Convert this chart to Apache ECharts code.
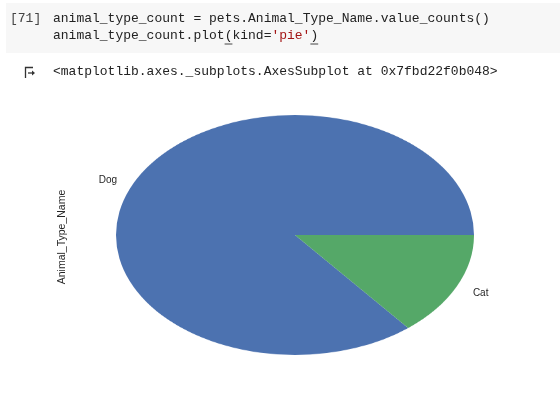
<!DOCTYPE html>
<html>
<head>
<meta charset="utf-8">
<script src="https://cdn.jsdelivr.net/npm/echarts@6/dist/echarts.min.js"></script>
<style>
html,body{margin:0;padding:0;background:#fff;}
#wrap{position:relative;width:560px;height:403px;overflow:hidden;}
#bg{position:absolute;left:0;top:0;width:560px;height:403px;}
#pie{position:absolute;width:358px;height:358px;left:116px;top:56px;transform:scaleY(0.6704);transform-origin:50% 50%;}
</style>
</head>
<body>
<div id="wrap"><div id="bg"></div><div id="pie"></div></div>
<script>
// Data
var categories = ['Dog', 'Cat'];
var counts = [859, 141];
var colors = ['#4c72b0', '#55a868'];
var yAxisLabel = 'Animal_Type_Name';

// Pie geometry (screen)
var cx = 295, cy = 235, rx = 179, ry = 120;

var pie = echarts.init(document.getElementById('pie'), null, {renderer: 'canvas'});
pie.setOption({
  animation: false,
  series: [{
    type: 'pie',
    center: ['50%', '50%'],
    radius: ['0%', '100%'],
    startAngle: 0,
    clockwise: false,
    label: {show: false},
    labelLine: {show: false},
    itemStyle: {borderWidth: 0},
    emphasis: {disabled: true},
    data: categories.map(function (c, i) {
      return {name: c, value: counts[i], itemStyle: {color: colors[i]}};
    })
  }]
});

// labels at 1.1 radius on mid-angle (matplotlib style)
var total = counts.reduce(function (a, b) { return a + b; }, 0);
var acc = 0;
var labelEls = [];
categories.forEach(function (c, i) {
  var a0 = acc / total * 2 * Math.PI;
  acc += counts[i];
  var a1 = acc / total * 2 * Math.PI;
  var mid = (a0 + a1) / 2;
  var x = cx + Math.cos(mid) * 1.1 * rx;
  var y = cy - Math.sin(mid) * 1.1 * ry + 1.5;
  labelEls.push({
    type: 'text', x: x, y: y,
    style: {
      text: c, fill: '#262626', font: '10px "Liberation Sans", Arial, sans-serif',
      textAlign: Math.cos(mid) >= 0 ? 'left' : 'right', textVerticalAlign: 'middle'
    }
  });
});

var mono = '13px "Liberation Mono", "Courier New", monospace';
var bg = echarts.init(document.getElementById('bg'));
bg.setOption({
  animation: false,
  graphic: [
    {type: 'rect', shape: {x: 6, y: 3, width: 554, height: 50}, style: {fill: '#f7f7f7'}},
    {type: 'text', x: 10, y: 19, style: {text: '[71]', fill: '#444', font: mono, textVerticalAlign: 'middle'}},
    {type: 'text', x: 53, y: 19, style: {text: 'animal_type_count = pets.Animal_Type_Name.value_counts()', fill: '#222', font: mono, textVerticalAlign: 'middle'}},
    {type: 'text', x: 53, y: 36, style: {text: 'animal_type_count.plot(kind=', fill: '#222', font: mono, textVerticalAlign: 'middle'}},
    {type: 'text', x: 53 + 28 * 7.8, y: 36, style: {text: "'pie'", fill: '#a31515', font: mono, textVerticalAlign: 'middle'}},
    {type: 'text', x: 53 + 33 * 7.8, y: 36, style: {text: ')', fill: '#222', font: mono, textVerticalAlign: 'middle'}},
    {type: 'line', shape: {x1: 53 + 22 * 7.8, y1: 44, x2: 53 + 23 * 7.8, y2: 44}, style: {stroke: '#444', lineWidth: 1}},
    {type: 'line', shape: {x1: 53 + 33 * 7.8, y1: 44, x2: 53 + 34 * 7.8, y2: 44}, style: {stroke: '#444', lineWidth: 1}},
    // output icon
    {type: 'polyline', shape: {points: [[25.5, 78], [25.5, 67.5], [33, 67.5]]}, style: {stroke: '#333', lineWidth: 1.3, fill: null}},
    {type: 'polyline', shape: {points: [[28, 73], [33, 73]]}, style: {stroke: '#333', lineWidth: 1.3}},
    {type: 'polygon', shape: {points: [[32, 70.5], [35, 73], [32, 75.5]]}, style: {fill: '#333'}},
    {type: 'text', x: 53, y: 72, style: {text: '<matplotlib.axes._subplots.AxesSubplot at 0x7fbd22f0b048>', fill: '#222', font: mono, textVerticalAlign: 'middle'}},
    {type: 'text', x: 62, y: 237, rotation: Math.PI / 2, style: {text: yAxisLabel, fill: '#262626', font: '10.5px "Liberation Sans", Arial, sans-serif', textAlign: 'center', textVerticalAlign: 'middle'}}
  ].concat(labelEls)
});
</script>
</body>
</html>
